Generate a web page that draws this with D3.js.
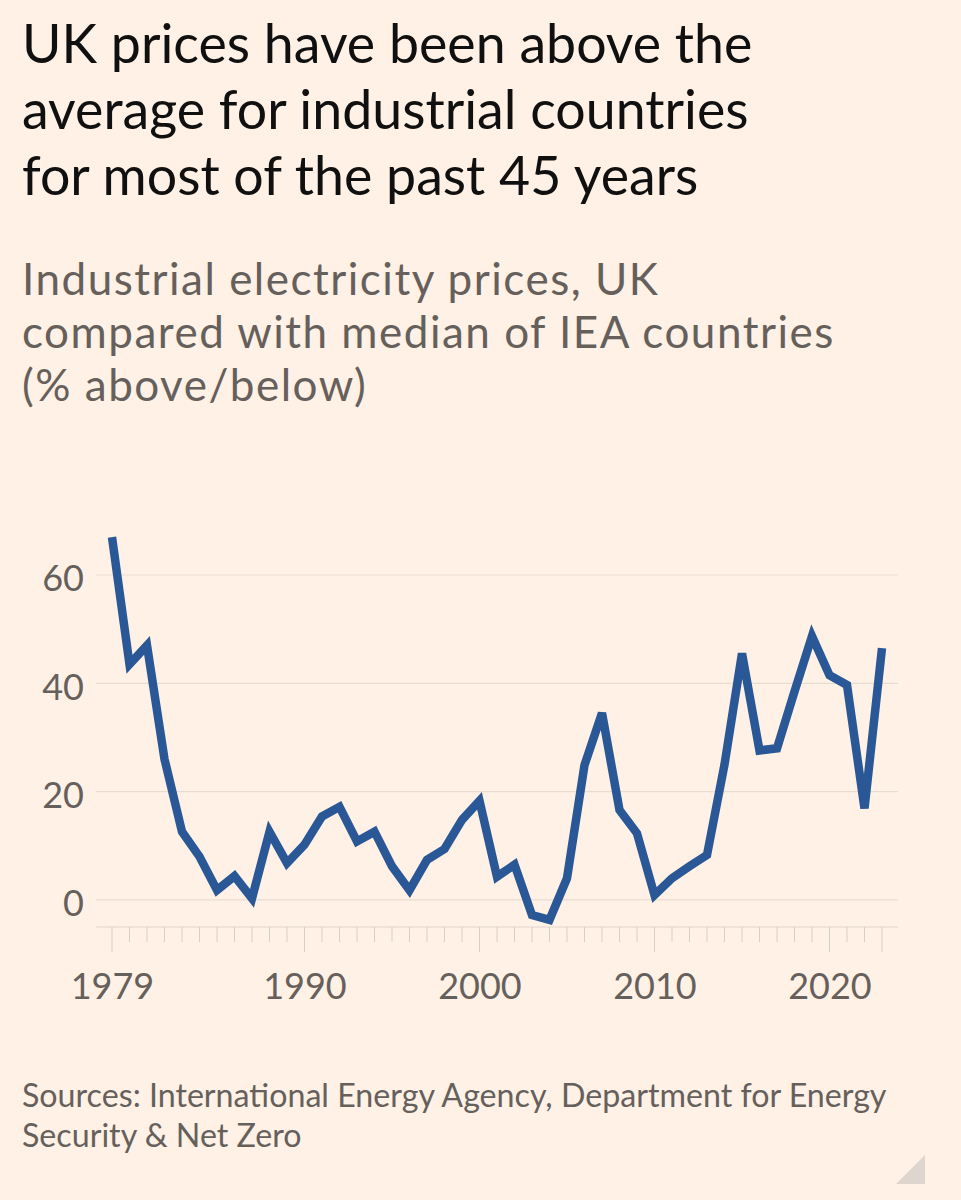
<!DOCTYPE html>
<html>
<head>
<meta charset="utf-8">
<script src="https://cdn.jsdelivr.net/npm/d3@7"></script>
<style>
  html, body { margin: 0; padding: 0; background: #fff1e5; }
  svg { display: block; }
</style>
</head>
<body>
<div id="chart"></div>
<script>
// UK industrial electricity prices vs median of IEA countries (% above/below)
const years = [1979, 1980, 1981, 1982, 1983, 1984, 1985, 1986, 1987, 1988,
               1989, 1990, 1991, 1992, 1993, 1994, 1995, 1996, 1997, 1998,
               1999, 2000, 2001, 2002, 2003, 2004, 2005, 2006, 2007, 2008,
               2009, 2010, 2011, 2012, 2013, 2014, 2015, 2016, 2017, 2018,
               2019, 2020, 2021, 2022, 2023];
const ukVsMedian = [67, 43.5, 47, 26, 12.6, 8, 1.8, 4.4, 0.3, 12.6,
                    6.8, 10.2, 15.4, 17.2, 10.8, 12.6, 6.2, 1.8, 7.4, 9.4,
                    14.8, 18.3, 4.3, 6.5, -2.8, -3.7, 4.0, 24.9, 34.5, 16.6,
                    12.3, 0.9, 4.0, 6.2, 8.3, 25, 45.5, 27.6, 28, 38.5,
                    48.7, 41.5, 39.7, 16.9, 46.5];
const yTicks = [0, 20, 40, 60];
const xLabelYears = [1979, 1990, 2000, 2010, 2020];
const xLongTicks = [1979, 1990, 2000, 2010, 2020, 2023];

const titleLines = ["UK prices have been above the",
                    "average for industrial countries",
                    "for most of the past 45 years"];
const subtitleLines = ["Industrial electricity prices, UK",
                       "compared with median of IEA countries",
                       "(% above/below)"];
const sourceLines = ["Sources: International Energy Agency, Department for Energy",
                     "Security & Net Zero"];

const W = 961, H = 1200;
const font = "Lato, 'Open Sans', sans-serif";

const svg = d3.select("#chart").append("svg")
    .attr("width", W)
    .attr("height", H);

svg.append("rect")
    .attr("width", W).attr("height", H)
    .attr("fill", "#fff1e5");

// titles
svg.append("g").selectAll("text")
    .data(titleLines)
    .join("text")
    .attr("x", 22)
    .attr("y", (d, i) => 63 + i * 66)
    .attr("font-family", font)
    .attr("font-size", 53.7)
    .attr("fill", "#111010")
    .text(d => d);

svg.append("g").selectAll("text")
    .data(subtitleLines)
    .join("text")
    .attr("x", 22)
    .attr("y", (d, i) => 295 + i * 53)
    .attr("font-family", font)
    .attr("font-size", 44)
    .attr("letter-spacing", 1.5)
    .attr("fill", "#66605c")
    .text(d => d);

// chart
const x = d3.scaleLinear()
    .domain([1979, 2023])
    .range([112, 882]);

const y = d3.scaleLinear()
    .domain([-5, 60])
    .range([927, 575]);

const gridX0 = 96, gridX1 = 898;

const plot = svg.append("g");

// horizontal gridlines
plot.append("g").selectAll("line")
    .data(yTicks)
    .join("line")
    .attr("x1", gridX0).attr("x2", gridX1)
    .attr("y1", d => y(d)).attr("y2", d => y(d))
    .attr("stroke", "#e9ddd2")
    .attr("stroke-width", 1.2);

// y labels
const yAxis = d3.axisLeft(y)
    .tickValues(yTicks)
    .tickSize(0)
    .tickPadding(0);

plot.append("g")
    .attr("transform", "translate(84,0)")
    .call(yAxis)
    .call(g => g.select(".domain").remove())
    .call(g => g.selectAll("text")
        .attr("font-family", font)
        .attr("font-size", 36)
        .attr("fill", "#66605c")
        .attr("dy", "0.44em"));

// x axis: baseline + yearly ticks
plot.append("line")
    .attr("x1", gridX0).attr("x2", gridX1)
    .attr("y1", y(-5)).attr("y2", y(-5))
    .attr("stroke", "#e2d5ca")
    .attr("stroke-width", 1.2);

plot.append("g").selectAll("line")
    .data(years)
    .join("line")
    .attr("x1", d => x(d)).attr("x2", d => x(d))
    .attr("y1", y(-5))
    .attr("y2", d => y(-5) + (xLongTicks.includes(d) ? 25 : 15))
    .attr("stroke", "#dacfc5")
    .attr("stroke-width", 1);

const xAxis = d3.axisBottom(x)
    .tickValues(xLabelYears)
    .tickFormat(d3.format("d"))
    .tickSize(0)
    .tickPadding(0);

plot.append("g")
    .attr("transform", `translate(0,${y(-5)})`)
    .call(xAxis)
    .call(g => g.select(".domain").remove())
    .call(g => g.selectAll("text")
        .attr("font-family", font)
        .attr("font-size", 36)
        .attr("fill", "#66605c")
        .attr("dy", "2em"));

// the line
const line = d3.line()
    .x((d, i) => x(years[i]))
    .y(d => y(d));

plot.append("path")
    .datum(ukVsMedian)
    .attr("d", line)
    .attr("fill", "none")
    .attr("stroke", "#2a5796")
    .attr("stroke-width", 8.5)
    .attr("stroke-linejoin", "miter");

// source
svg.append("g").selectAll("text")
    .data(sourceLines)
    .join("text")
    .attr("x", 22)
    .attr("y", (d, i) => 1107 + i * 40)
    .attr("font-family", font)
    .attr("font-size", 32.2)
    .attr("fill", "#66605c")
    .text(d => d);

// corner mark
svg.append("path")
    .attr("d", "M925,1155 L925,1184 L896,1184 Z")
    .attr("fill", "#ddd5ce");
</script>
</body>
</html>
